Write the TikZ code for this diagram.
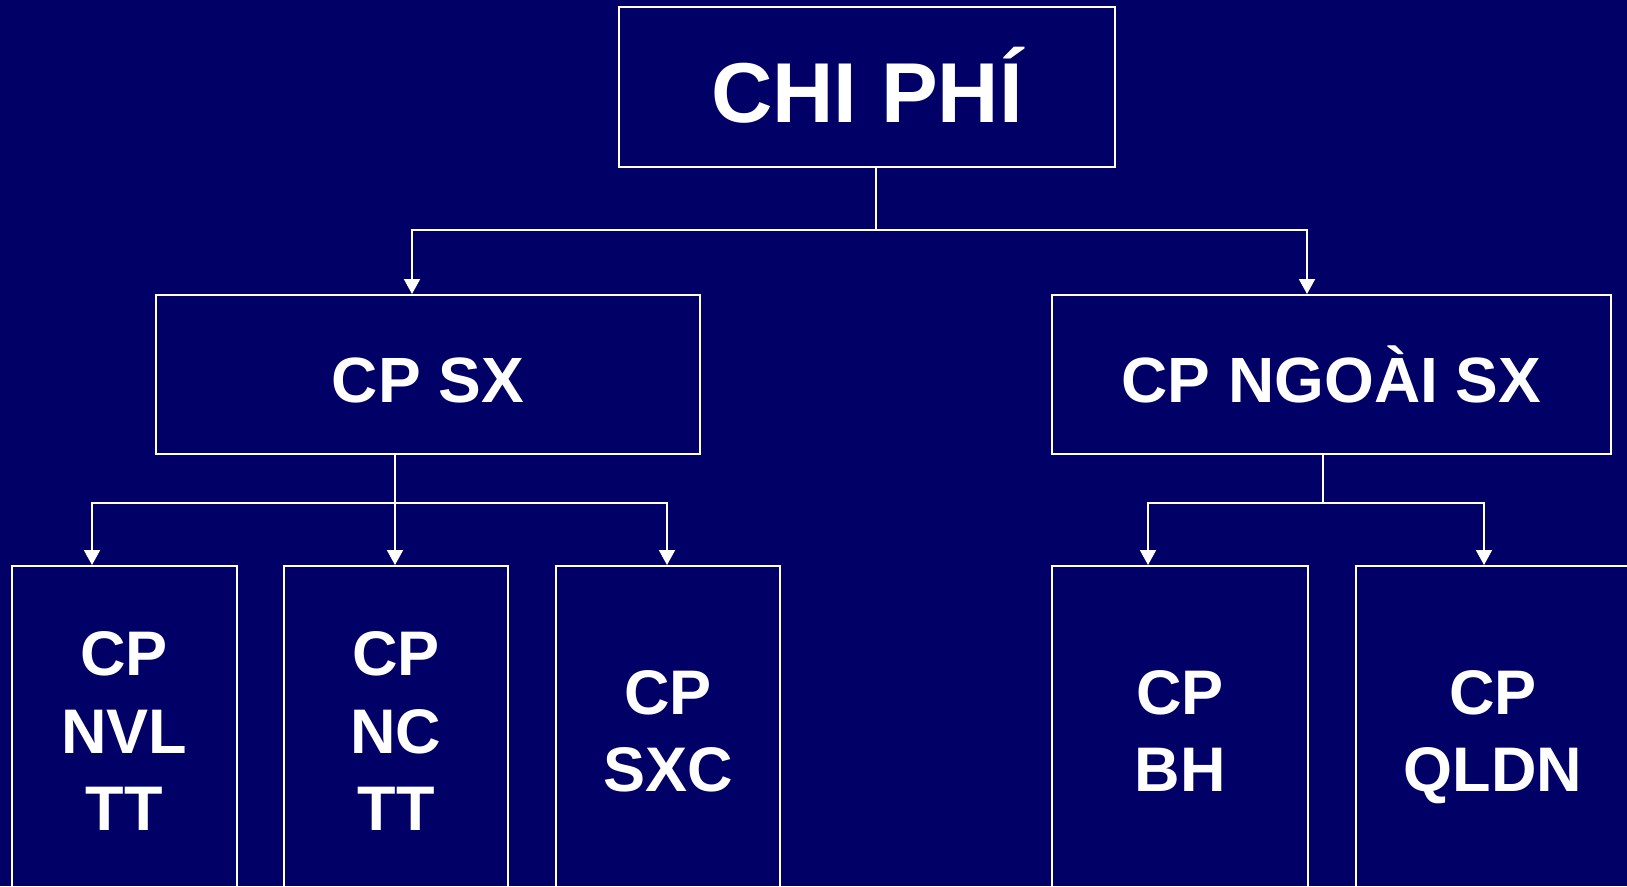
\documentclass[tikz,border=0pt]{standalone}
\usepackage{fontspec}
\setmainfont{Liberation Sans}
\usetikzlibrary{arrows.meta}
\definecolor{navy}{HTML}{000066}
\begin{document}
\begin{tikzpicture}[x=1pt,y=-1pt,
  box/.style={draw=white, line width=2pt, inner sep=0pt, text=white,
    font=\bfseries, align=center},
  link/.style={draw=white, line width=2pt},
  arr/.style={link, -{Triangle[width=16pt,length=15pt]}}]
\useasboundingbox (0,0) rectangle (1627,886);
\clip (0,0) rectangle (1627,886);
\fill[navy] (0,0) rectangle (1627,886);

% top level
\node[box, minimum width=496pt, minimum height=160pt,
  text height=70.8pt, text depth=0pt,
  font=\bfseries\fontsize{85}{98}\selectfont] (top) at (867,87) {CHI PHÍ};

% second level
\tikzset{mid/.style={box, minimum height=159pt, text height=56.2pt,
  text depth=0pt, font=\bfseries\fontsize{64}{76}\selectfont}}
\node[mid, minimum width=544pt] (sx) at (428,374.5) {CP SX};
\node[mid, minimum width=559pt] (nsx) at (1331.5,374.5) {CP NGOÀI SX};

% third level
\tikzset{leaf/.style={box, minimum height=330pt, text depth=0pt,
  font=\bfseries\fontsize{63}{77.5}\selectfont}}
\node[leaf, minimum width=225pt] (b1) at (124,731) {CP\\NVL\\TT};
\node[leaf, minimum width=224pt] (b2) at (396,731) {CP\\NC\\TT};
\node[leaf, minimum width=224pt] (b3) at (668,731) {CP\\SXC};
\node[leaf, minimum width=256pt] (b4) at (1180,731) {CP\\BH};
\node[leaf, minimum width=274pt] (b5) at (1493,731) {CP\\QLDN};

% connectors: top -> second level
\coordinate (j0) at (876,230);
\coordinate (d1) at (412,230);
\coordinate (d2) at (1307,230);
\draw[link] (j0 |- top.south) -- (j0);
\draw[arr] (j0) -- (d1) -- (d1 |- sx.north);
\draw[arr] (j0) -- (d2) -- (d2 |- nsx.north);

% connectors: CP SX -> leaves
\coordinate (j1) at (395,503);
\coordinate (e1) at (92,503);
\coordinate (e3) at (667,503);
\draw[link] (j1 |- sx.south) -- (j1);
\draw[arr] (j1) -- (e1) -- (e1 |- b1.north);
\draw[arr] (j1) -- (j1 |- b2.north);
\draw[arr] (j1) -- (e3) -- (e3 |- b3.north);

% connectors: CP NGOAI SX -> leaves
\coordinate (j2) at (1323,503);
\coordinate (e4) at (1148,503);
\coordinate (e5) at (1484,503);
\draw[link] (j2 |- nsx.south) -- (j2);
\draw[arr] (j2) -- (e4) -- (e4 |- b4.north);
\draw[arr] (j2) -- (e5) -- (e5 |- b5.north);
\end{tikzpicture}
\end{document}
